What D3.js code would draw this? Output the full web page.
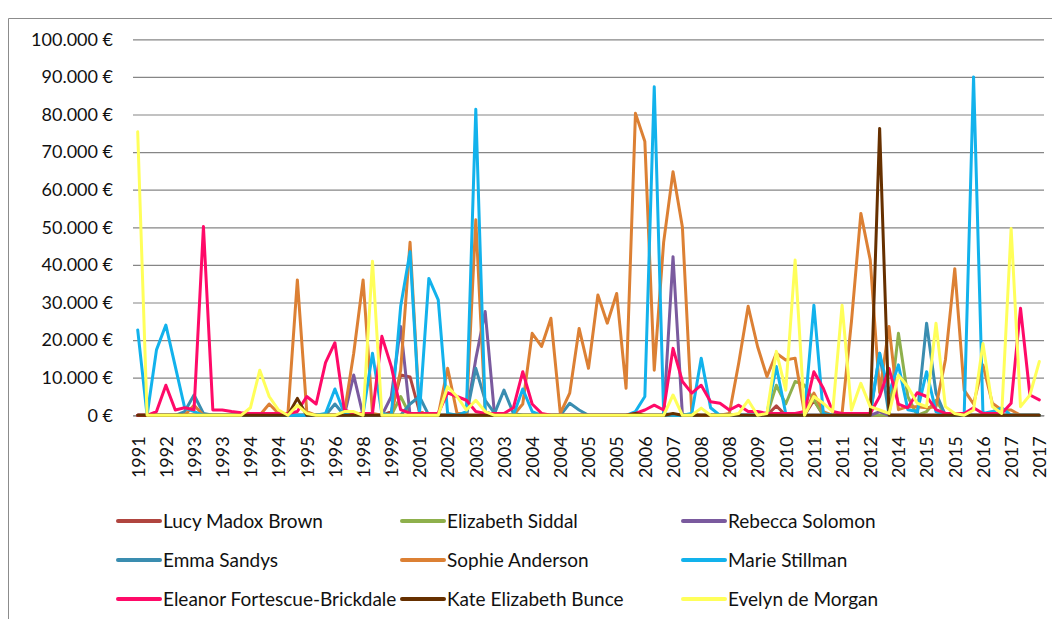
<!DOCTYPE html>
<html>
<head>
<meta charset="utf-8">
<script src="https://cdn.jsdelivr.net/npm/d3@7"></script>
<style>
  html, body { margin: 0; padding: 0; background: #fff; }
  svg { display: block; }
  text { font-family: Lato, "Open Sans", sans-serif; fill: #111; }
</style>
</head>
<body>
<svg id="chart" width="1052" height="619"></svg>
<script>
// ---- data (values in thousands of euro) ----
const xTickLabels = ["1991","1992","1993","1993","1994","1994","1995","1996","1998","1999","2001",
  "2002","2003","2003","2004","2004","2005","2005","2006","2007","2008","2008",
  "2009","2010","2011","2011","2012","2014","2015","2015","2016","2017","2017"];
const labelEvery = 3;
const yTicks = [0,10,20,30,40,50,60,70,80,90,100];
const yTickLabels = ["0 €","10.000 €","20.000 €","30.000 €","40.000 €","50.000 €","60.000 €","70.000 €","80.000 €","90.000 €","100.000 €"];

const seriesNames = ["Lucy Madox Brown","Elizabeth Siddal","Rebecca Solomon","Emma Sandys","Sophie Anderson","Marie Stillman","Eleanor Fortescue-Brickdale","Kate Elizabeth Bunce","Evelyn de Morgan"];
const seriesColors = ["#B0453F","#8EB04C","#7A5A9E","#3A8DB0","#DC8034","#12B2EC","#FF0A68","#663000","#FFFF5A"];

const lucy = [0,0,0,0,0,0,0,0,0,0, 0,0,0,0,0,0,0,0,0,0, 0,0,0,0,0,0,0,1,10.7,10.2, 1,0,0,0,0,0,0,0,0,0,
  0,0,0,0,0,0,0,0,0,0, 0,0,0,0,0,0,0,0,0,0, 0,0,0,0,0,0,0,0,2.5,0, 0,0,4,0,0,0,0,0,0,0,
  0,0,0,0,0,0,0,0,0,0, 0,0,0,0,0,0,0];
const siddal = [0,0,0,0,0,0,0,0,0,0, 0,0,0,0,0,0,0,0,0,0, 0,0,0,0,0,0,0,0,5,0, 0,0,0,0,0,0,0,0,0,0,
  0,0,0,0,0,0,0,0,0,0, 0,0,0,0,0,0,0,0,0,0, 0,0,0,0,0,0,0,0,8,3, 9,8,4,0,0,0,0,0,0,0,
  0,21.8,5,0,1,4,0,0,0,0, 0,0,0,0,0,0,0];
const solomon = [0,0,0,0,0,0,0,0,0,0, 0,0,0,0,0,0,0,0,0,0, 0,0,0,10.7,0,0,0,5,23.6,0, 0,0,0,0,0,0,15,27.6,0,0,
  0,0,0,0,0,0,0,0,0,0, 0,0,0,0,0,0,0,42.2,0,0, 0,0,0,0,0,0,0,0,0,0, 0,0,0,0,0,0,0,0,0,1,
  0,0,0,0,0,0,0,0,0,0, 0,0,0,0,0,0,0];
const sandys = [0,0,0,0,0,1,5.4,0.5,0,0, 0,0,0,0,0,0,0,0,0,0, 0,3,0,0,0,0,0,0,0,3, 5,0,0,0,0,0,12.5,4,0.5,6.7,
  0.5,0,0,0,0,0,3.2,1.4,0,0, 0,0,0,0,0,0,0,0,0,0, 0,0,0,0,0,0,0,0,0,0, 0,0,0,0,0,0,0,0,0,16.5,
  0,0,0,0,24.5,5.9,0,0,0,0, 0,0,0,0,0,0,0];
const anderson = [0,0,0,0,0,0,2.7,0,0,0, 0,0,0,0,3,0.5,0.5,36,1,0, 0,0,0.5,16.5,36,0.5,0,0,12,46, 1,0,0,12.5,0.5,0.5,52,1,0,0,
  0,3,21.8,18.3,25.8,0.5,5.9,23.1,12.5,32, 24.5,32.4,7.2,80.3,72.8,12,46,64.8,50,0.5, 0,0,0,0.5,14,29,18.3,10.3,16.5,14.7,
  15.2,0.5,5.9,1,0,0.5,25,53.7,41.3,6, 23.6,1.5,2.3,2.3,2,2.3,14.7,39,6.7,3, 13.4,3.2,1.4,1.4,0,0,0];
const stillman = [22.7,0,17.4,24,13,2,1,0,0,0, 0,0,0,0,0,0,0,0,0,0, 0.5,7,0.5,0,0.5,16.5,0.5,0,29,43.5, 0.5,36.4,30.7,0.5,0,1,81.4,1,0,0,
  0,7,1,0,0,0,0,0,0,0, 0,0,0,1,5,87.4,0.5,0,0,0.5, 15.2,2,0,0,0,0,0,0.5,13,0.5, 0,0.5,29.3,0.5,0,0,0,0,0.5,16.5,
  6,13.4,1.5,1,11.6,1,0,0,0,90, 0.5,1,2,0,0,0,0];
const brickdale = [0,0,1,8,1.4,2,1.5,50.2,1.4,1.4, 1,0.7,0.5,0.5,0.5,0.5,0.5,1,5,3, 14,19.3,1.4,0.5,0.5,0.5,21,13,1.5,0.5, 0.5,0.5,0.5,6,5,4,1,0.5,0.5,0.5,
  2,11.6,3,0.5,0,0,0,0,0,0, 0,0,0,0.5,1.4,2.7,1.4,17.8,9,5.9, 8,3.6,3.2,1.4,2.7,1,1,0.5,0.5,0.5, 0.5,1,11.6,7.2,1,0.5,0.5,0.5,0.5,5,
  12.5,3,2,6,5,1.5,0.5,0.5,0.5,2, 0.5,0.5,0.5,3.2,28.5,5.4,4.1];
const bunce = [0,0,0,0,0,0,0,0,0,0, 0,0,0,0,0,0,0,4.5,0,0, 0,0,0,0,0,0,0,0,0,0, 0,0,0,0,0,0,0,0,0,0,
  0,0,0,0,0,0,0,0,0,0, 0,0,0,0.5,0,0,0,0.5,0,0, 0,0,0,0,0,0,0,0,0,0, 0,0,0,0,0,0,0,0,0,76.3,
  0,0,0,0,0,0,0,0,0,0, 0,0,0,0,0,0,0];
const demorgan = [75.4,0,0,0,0,0,0,0,0,0, 0,0,2,12,5,1.4,0,2.7,0.5,0, 0,0,1,1,0,41,0,0,0,0, 0,0,0,7.6,5,1.4,4,1,0,0,
  0,0,0,0,0,0,0,0,0,0, 0,0,0,0,0,0,0,5.4,0,0, 1.9,0,0,0,0.5,4,0,0.5,17,6.7, 41.3,0,5,3.2,1,29.3,1.4,8.5,2.3,1.4,
  0.5,10.7,7.6,3.2,2.3,24.5,2.3,0.5,0,1.4, 19.1,2.3,0.5,49.7,2.3,5.4,14.3];

const seriesValues = [lucy, siddal, solomon, sandys, anderson, stillman, brickdale, bunce, demorgan];

// ---- layout ----
const svg = d3.select("#chart");
const W = 1052, H = 619;
const plot = {left: 133, right: 1044, top: 39.3, bottom: 415.3};

svg.append("rect").attr("width", W).attr("height", H).attr("fill", "#fff");
// chart frame
svg.append("path").attr("d", `M8.5,${H} V18.5 H${W}`)
  .attr("fill", "none").attr("stroke", "#8c8c8c").attr("stroke-width", 1);

const n = lucy.length;
const x = d3.scalePoint().domain(d3.range(n)).range([plot.left, plot.right]).padding(0.5);
const y = d3.scaleLinear().domain([0, 100]).range([plot.bottom, plot.top]);

// gridlines
const yAxis = d3.axisLeft(y).tickValues(yTicks).tickSize(-(plot.right - plot.left))
  .tickFormat((d, i) => yTickLabels[i]).tickPadding(20);
const gy = svg.append("g").attr("transform", `translate(${plot.left},0)`).call(yAxis);
gy.select(".domain").remove();
gy.selectAll(".tick line").attr("stroke", "#868686").attr("stroke-width", 1.2);
gy.selectAll(".tick text").attr("font-size", 18).attr("fill", "#111")
  .attr("font-family", "Lato, sans-serif");

// x axis labels
const xLabelIdx = xTickLabels.map((_, k) => k * labelEvery);
const xAxis = d3.axisBottom(x).tickValues(xLabelIdx).tickSize(0)
  .tickFormat(d => xTickLabels[d / labelEvery]);
const gx = svg.append("g").attr("transform", `translate(0,${plot.bottom})`).call(xAxis);
gx.select(".domain").attr("stroke", "#868686");
gx.selectAll(".tick text")
  .attr("font-size", 18).attr("fill", "#111").attr("font-family", "Lato, sans-serif")
  .attr("text-anchor", "end")
  .attr("transform", "translate(0,21) rotate(-90)")
  .attr("x", 0).attr("y", 0).attr("dy", "0.35em");

// lines
const line = d3.line().x((d, i) => x(i)).y(d => y(d)).curve(d3.curveLinear);
svg.append("g").selectAll("path").data(seriesValues).join("path")
  .attr("d", d => line(d))
  .attr("fill", "none")
  .attr("stroke", (d, i) => seriesColors[i])
  .attr("stroke-width", 3)
  .attr("stroke-linejoin", "round")
  .attr("stroke-linecap", "round");

// legend
const legCols = [118, 402, 683];
const legRows = [521, 560, 599];
const leg = svg.append("g").selectAll("g").data(seriesNames).join("g")
  .attr("transform", (d, i) => `translate(${legCols[i % 3]},${legRows[Math.floor(i / 3)]})`);
leg.append("line").attr("x1", 0).attr("x2", 42).attr("y1", 0).attr("y2", 0)
  .attr("stroke", (d, i) => seriesColors[i]).attr("stroke-width", 4).attr("stroke-linecap", "round");
leg.append("text").attr("x", 45).attr("y", 0).attr("dy", "0.35em")
  .attr("font-size", 19).text(d => d);
</script>
</body>
</html>
